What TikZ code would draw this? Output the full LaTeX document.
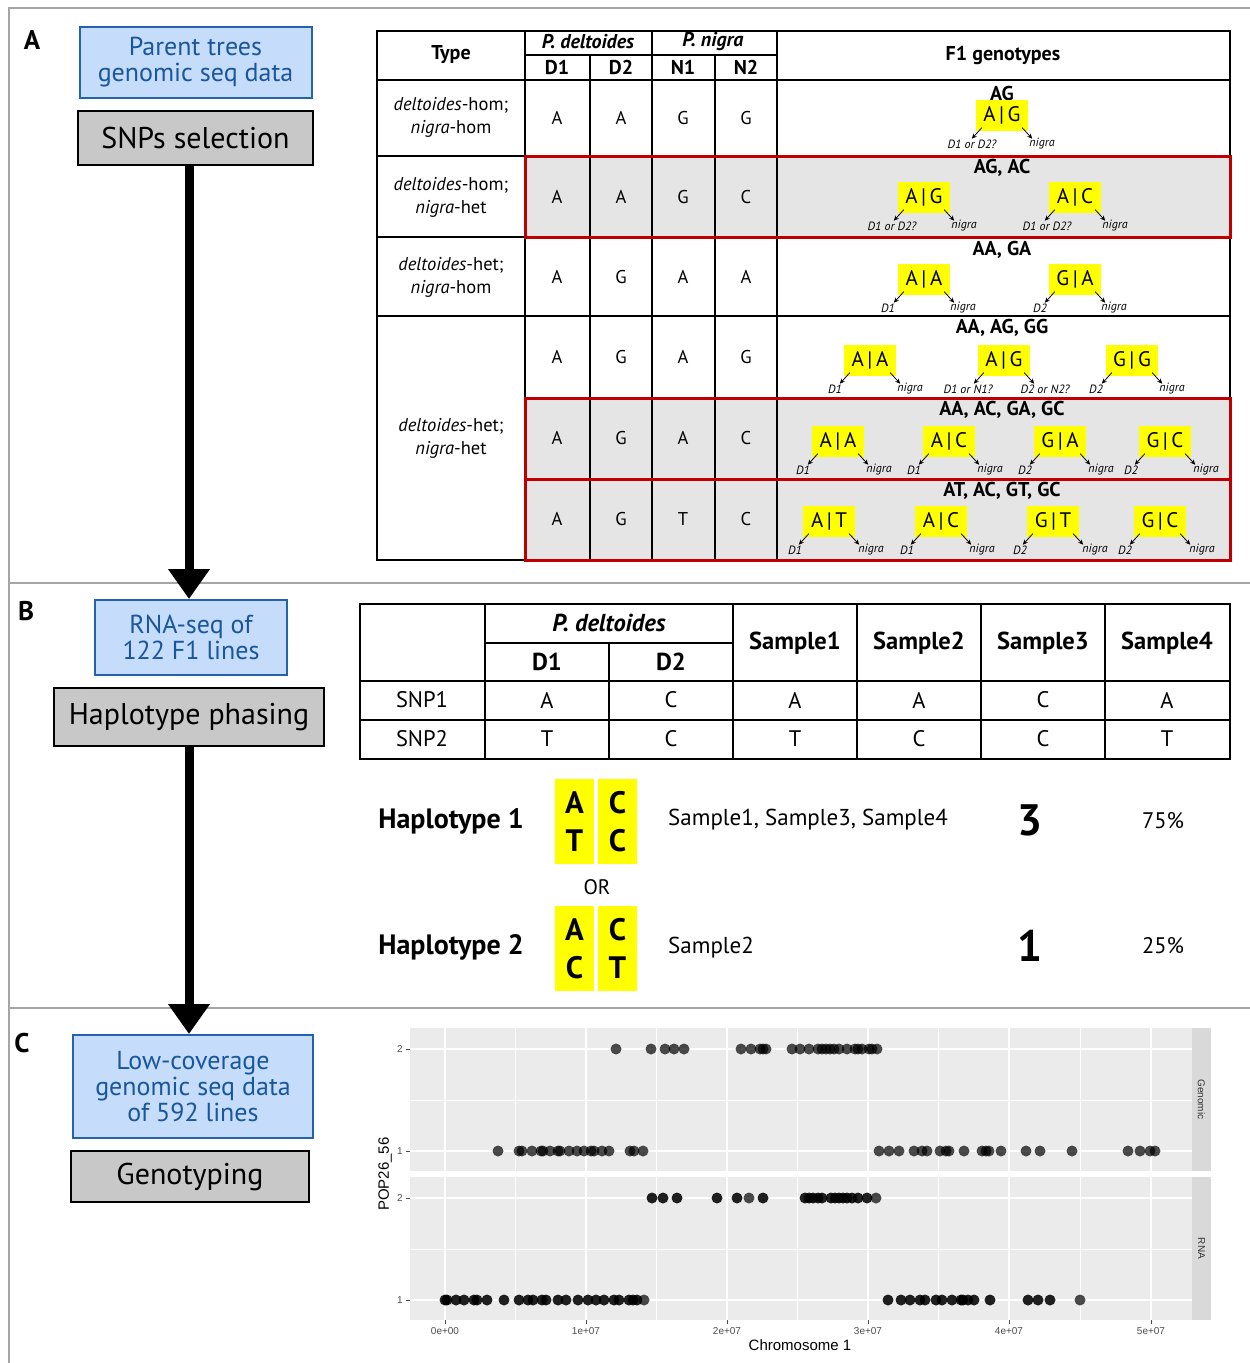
\documentclass[tikz,border=0pt]{standalone}
\usepackage{fontspec}
\setmainfont{PT Sans}
\newfontfamily\plotfont{Liberation Sans}
\usetikzlibrary{arrows.meta,calc}
\definecolor{lblue}{RGB}{197,221,251}
\definecolor{bblue}{RGB}{36,99,172}
\definecolor{tblue}{RGB}{26,86,156}
\definecolor{bgray}{RGB}{200,200,200}
\definecolor{cgray}{RGB}{229,229,229}
\definecolor{fgray}{RGB}{165,165,165}
\definecolor{rred}{RGB}{192,0,0}
\definecolor{yel}{RGB}{255,255,0}
\definecolor{pbg}{RGB}{235,235,235}
\definecolor{stripc}{RGB}{217,217,217}
\definecolor{axgray}{RGB}{77,77,77}

\newcommand\gbox[8]{%
  \node[ylw] (#1) at (#2,#3) {#4};
  \node[lab] (#1l) at (#6,#3+29) {#5};
  \node[lab] (#1r) at (#8,#3+29) {#7};
  \coordinate (#1lt) at ($(#1.south west)+(-4,8)$);
  \coordinate (#1rt) at ($(#1.south east)+(4,8)$);
  \draw[sarr] ([shift={(6,-3)}]#1.south west) -- (#1lt);
  \draw[sarr] ([shift={(-6,-3)}]#1.south east) -- (#1rt);
}

\begin{document}
\begin{tikzpicture}[x=1pt,y=-1pt,
  bluebox/.style={draw=bblue, fill=lblue, line width=2pt, text=tblue, align=center, inner sep=0pt, font=\fontsize{26}{26}\selectfont},
  graybox/.style={draw=black, fill=bgray, line width=2.5pt, inner sep=0pt, font=\fontsize{30}{32}\selectfont},
  bigarr/.style={line width=9pt, -{Triangle[length=30pt,width=40pt]}},
  plet/.style={font=\fontsize{27}{30}\selectfont\bfseries, inner sep=0pt},
  ylw/.style={fill=yel, minimum width=52pt, minimum height=31pt, inner sep=0pt, font=\fontsize{21}{23}\selectfont},
  lab/.style={font=\fontsize{12}{13}\selectfont\itshape, inner sep=1pt},
  sarr/.style={line width=0.8pt, -{Stealth[length=5pt,width=4.5pt]}},
  cell/.style={font=\fontsize{18.5}{22}\selectfont, inner sep=0pt},
  tcell/.style={font=\fontsize{18.5}{23}\selectfont, align=center, inner sep=0pt},
  hdr/.style={font=\fontsize{20}{22}\selectfont\bfseries, inner sep=0pt},
  fhdr/.style={font=\fontsize{20}{22}\selectfont\bfseries, inner sep=0pt},
  tline/.style={line width=2pt},
  redrow/.style={draw=rred, line width=3pt},
  bcell/.style={font=\fontsize{22.5}{26}\selectfont, inner sep=0pt},
  bhdr/.style={font=\fontsize{24.5}{26}\selectfont\bfseries, inner sep=0pt},
  hapl/.style={font=\fontsize{28}{30}\selectfont\bfseries, inner sep=0pt},
  hbox/.style={fill=yel, minimum width=39pt, minimum height=85pt, inner sep=0pt, align=center, font=\fontsize{31}{38}\selectfont\bfseries},
  bignum/.style={font=\fontsize{44}{46}\selectfont\bfseries, inner sep=0pt},
  gpt/.style={fill=black, fill opacity=0.7},
  rpt/.style={fill=black, fill opacity=0.87},
  tick/.style={font=\plotfont\fontsize{10}{11}\selectfont, text=axgray, inner sep=0pt},
  majg/.style={white, line width=1.3pt},
  ming/.style={white, line width=0.6pt}
]
\useasboundingbox (0,0) rectangle (1250,1363);
\fill[white] (0,0) rectangle (1250,1363);

% frame
\draw[fgray, line width=2pt] (9,1363) -- (9,8) -- (1250,8);
\draw[fgray, line width=2pt] (9,583) -- (1250,583);
\draw[fgray, line width=2pt] (9,1008) -- (1250,1008);

% panel letters
\node[plet] (LA) at (32,40) {A};
\node[plet] (LB) at (26,611) {B};
\node[plet] (LC) at (22,1043) {C};

% left flow
\node[bluebox, minimum width=232pt, minimum height=71pt] (par) at (195.5,62.5) {Parent trees\\genomic seq data};
\node[graybox, minimum width=235pt, minimum height=54pt] (snp) at (195.5,138) {SNPs selection};
\node[bluebox, minimum width=192pt, minimum height=75pt] (rna) at (191,637.5) {RNA-seq of\\122 F1 lines};
\node[graybox, minimum width=270pt, minimum height=58pt] (hap) at (189,717) {Haplotype phasing};
\node[bluebox, minimum width=240pt, minimum height=103pt] (low) at (193,1086.5) {Low-coverage\\genomic seq data\\of 592 lines};
\node[graybox, minimum width=238pt, minimum height=51pt] (gen) at (190,1176.5) {Genotyping};
\draw[bigarr] (snp.south -| 189,0) -- (rna.north -| 189,0);
\draw[bigarr] (hap.south -| 189,0) -- (low.north -| 189,0);

% ===== Table A =====
\fill[cgray] (525,156) rectangle (1230,237);
\fill[cgray] (525,398) rectangle (1230,560);
\draw[line width=2.5pt] (377,31) rectangle (1230,560);
\draw[tline] (525,31) -- (525,560);
\draw[tline] (652,31) -- (652,560);
\draw[tline] (777,31) -- (777,560);
\draw[tline] (590,55) -- (590,560);
\draw[tline] (715,55) -- (715,560);
\draw[tline] (525,55) -- (777,55);
\draw[tline] (377,80) -- (1230,80);
\draw[tline] (377,156) -- (1230,156);
\draw[tline] (377,237) -- (1230,237);
\draw[tline] (377,316) -- (1230,316);
\draw[tline] (525,398) -- (1230,398);
\draw[tline] (525,479) -- (1230,479);
\draw[redrow] (525,156) rectangle (1230,237);
\draw[redrow] (525,398) rectangle (1230,479);
\draw[redrow] (525,479) rectangle (1230,560);

\node[hdr] (ty) at (451,55) {Type};
\node[hdr] (pd) at (588,42) {\textit{P. deltoides}};
\node[hdr] (pn) at (713,42) {\textit{P. nigra}};
\node[hdr] (hd1) at (557,67) {D1};
\node[hdr] (hd2) at (621,67) {D2};
\node[hdr] (hn1) at (683,67) {N1};
\node[hdr] (hn2) at (746,67) {N2};
\node[hdr] (f1) at (1003,55) {F1 genotypes};

\node[tcell] (t1) at (451,117) {\textit{deltoides}-hom;\\\textit{nigra}-hom};
\node[tcell] (t2) at (451,197) {\textit{deltoides}-hom;\\\textit{nigra}-het};
\node[tcell] (t3) at (451,277) {\textit{deltoides}-het;\\\textit{nigra}-hom};
\node[tcell] (t4) at (451,438) {\textit{deltoides}-het;\\\textit{nigra}-het};

\foreach \r/\y/\a/\b/\c/\d in {1/118/A/A/G/G, 2/197/A/A/G/C, 3/277/A/G/A/A, 4/357/A/G/A/G, 5/438/A/G/A/C, 6/519/A/G/T/C}{
  \node[cell] (a\r1) at (557,\y) {\a};
  \node[cell] (a\r2) at (621,\y) {\b};
  \node[cell] (a\r3) at (683,\y) {\c};
  \node[cell] (a\r4) at (746,\y) {\d};
}

\node[fhdr] (fh1) at (1002,93) {AG};
\node[fhdr] (fh2) at (1002,168) {AG, AC};
\node[fhdr] (fh3) at (1002,250) {AA, GA};
\node[fhdr] (fh4) at (1002,328) {AA, AG, GG};
\node[fhdr] (fh5) at (1002,410) {AA, AC, GA, GC};
\node[fhdr] (fh6) at (1002,491) {AT, AC, GT, GC};

\gbox{g11}{1002}{115}{A\,|\,G}{D1 or D2?}{972}{nigra}{1042}
\gbox{g21}{924}{197}{A\,|\,G}{D1 or D2?}{892}{nigra}{964}
\gbox{g22}{1075}{197}{A\,|\,C}{D1 or D2?}{1047}{nigra}{1115}
\gbox{g31}{924}{279}{A\,|\,A}{D1}{888}{nigra}{963}
\gbox{g32}{1075}{279}{G\,|\,A}{D2}{1040}{nigra}{1114}
\gbox{g41}{870}{360}{A\,|\,A}{D1}{835}{nigra}{910}
\gbox{g42}{1004}{360}{A\,|\,G}{D1 or N1?}{968}{D2 or N2?}{1045}
\gbox{g43}{1132}{360}{G\,|\,G}{D2}{1096}{nigra}{1172}
\gbox{g51}{838}{441}{A\,|\,A}{D1}{803}{nigra}{879}
\gbox{g52}{949}{441}{A\,|\,C}{D1}{914}{nigra}{990}
\gbox{g53}{1060}{441}{G\,|\,A}{D2}{1025}{nigra}{1101}
\gbox{g54}{1165}{441}{G\,|\,C}{D2}{1131}{nigra}{1206}
\gbox{g61}{829}{521}{A\,|\,T}{D1}{795}{nigra}{871}
\gbox{g62}{941}{521}{A\,|\,C}{D1}{907}{nigra}{982}
\gbox{g63}{1053}{521}{G\,|\,T}{D2}{1020}{nigra}{1095}
\gbox{g64}{1160}{521}{G\,|\,C}{D2}{1125}{nigra}{1202}

% ===== Table B =====
\draw[line width=2.5pt] (360,604) rectangle (1230,759);
\draw[tline] (485,604) -- (485,759);
\draw[tline] (609,643) -- (609,759);
\foreach \xx in {733,857,981,1105} \draw[tline] (\xx,604) -- (\xx,759);
\draw[tline] (485,643) -- (733,643);
\draw[tline] (360,681) -- (1230,681);
\draw[tline] (360,720) -- (1230,720);

\node[bhdr] (bpd) at (609,623) {\textit{P. deltoides}};
\node[bhdr] (bd1) at (547,662) {D1};
\node[bhdr] (bd2) at (671,662) {D2};
\foreach \n/\xx in {1/795,2/919,3/1043,4/1167} \node[bhdr] (bs\n) at (\xx,643) {Sample\n};
\node[bcell] (snp1) at (422,700) {SNP1};
\node[bcell] (snp2) at (422,739) {SNP2};
\foreach \k/\xx/\p/\q in {1/547/A/T, 2/671/C/C, 3/795/A/T, 4/919/A/C, 5/1043/C/C, 6/1167/A/T}{
  \node[bcell] (r1c\k) at (\xx,700) {\p};
  \node[bcell] (r2c\k) at (\xx,739) {\q};
}

% haplotypes
\node[hapl] (hl1) at (451,821) {Haplotype 1};
\node[hapl] (hl2) at (451,947) {Haplotype 2};
\node[hbox] (h1a) at (574.5,821.5) {A\\T};
\node[hbox] (h1b) at (617.5,821.5) {C\\C};
\node[font=\fontsize{21}{24}\selectfont, inner sep=0pt] (or) at (597,887) {OR};
\node[hbox] (h2a) at (574.5,948.5) {A\\C};
\node[hbox] (h2b) at (617.5,948.5) {C\\T};
\node[font=\fontsize{23}{26}\selectfont, inner sep=0pt, anchor=west] (sm1) at (668,820) {Sample1, Sample3, Sample4};
\node[font=\fontsize{23}{26}\selectfont, inner sep=0pt, anchor=west] (sm2) at (668,948) {Sample2};
\node[bignum] (n3) at (1030,820) {3};
\node[bignum] (n1) at (1030,946) {1};
\node[bcell] (p75) at (1163,821) {75\%};
\node[bcell] (p25) at (1163,946) {25\%};

% ===== Plot =====
\fill[pbg] (410,1028) rectangle (1192,1171);
\fill[pbg] (410,1177) rectangle (1192,1320);
\foreach \t/\b in {1028/1171, 1177/1320}{
  \foreach \xx in {515.5,656.5,797.5,938.5,1080} \draw[ming] (\xx,\t) -- (\xx,\b);
  \foreach \xx in {445,586,727,868,1009,1151} \draw[majg] (\xx,\t) -- (\xx,\b);
}
\draw[ming] (410,1100) -- (1192,1100);
\draw[ming] (410,1249) -- (1192,1249);
\foreach \yy in {1049,1151,1198,1300} \draw[majg] (410,\yy) -- (1192,\yy);
\fill[stripc] (1192,1028) rectangle (1211,1171);
\fill[stripc] (1192,1177) rectangle (1211,1320);
\node[tick, rotate=-90, text=black!80] (sg) at (1201.5,1099.5) {Genomic};
\node[tick, rotate=-90, text=black!80] (sr) at (1201.5,1248.5) {RNA};
\foreach \yy/\l in {1049/2,1151/1,1198/2,1300/1}{
  \draw[axgray, line width=0.6pt] (406,\yy) -- (410,\yy);
  \node[tick, anchor=east] at (403,\yy) {\l};
}
\foreach \xx/\l in {445/0e+00,586/1e+07,727/2e+07,868/3e+07,1009/4e+07,1151/5e+07}{
  \draw[axgray, line width=0.6pt] (\xx,1320) -- (\xx,1324);
  \node[tick] at (\xx,1331) {\l};
}
\node[font=\plotfont\fontsize{15}{17}\selectfont, inner sep=0pt] (xl) at (800,1345) {Chromosome 1};
\node[font=\plotfont\fontsize{15}{17}\selectfont, inner sep=0pt, rotate=90] (yl) at (385,1174) {POP26\_56};

\foreach \xx in {616,651,665,674,684,741,751,760,763,766,792,800,809,818,822,826,830,834,839,847,855,858,862,869,872,877}
  \fill[gpt] (\xx,1049) circle[radius=5.5pt];
\foreach \xx in {498,519,522,532,541,543,550,558,560,569,577,584,591,594,602,609,630,634,643,879,889,899,914,922,927,940,946,949,964,982,986,989,1001,1026,1040,1072,1128,1140,1150,1155}
  \fill[gpt] (\xx,1151) circle[radius=5.5pt];
\foreach \xx in {652,663,677,717,737,763,805,809,813,818,822,831,835,839,843,847,852,858,867}
  \fill[rpt] (\xx,1198) circle[radius=5.5pt];
\foreach \xx in {749,876}
  \fill[gpt] (\xx,1198) circle[radius=5.5pt];
\foreach \xx in {445,447,456,464,474,477,487,504,519,528,533,542,546,558,566,578,588,596,604,614,619,629,633,637,888,901,910,920,925,936,942,952,961,963,968,974,990,1028,1038,1050}
  \fill[rpt] (\xx,1300) circle[radius=5.5pt];
\foreach \xx in {644,1080}
  \fill[gpt] (\xx,1300) circle[radius=5.5pt];
\end{tikzpicture}
\end{document}
